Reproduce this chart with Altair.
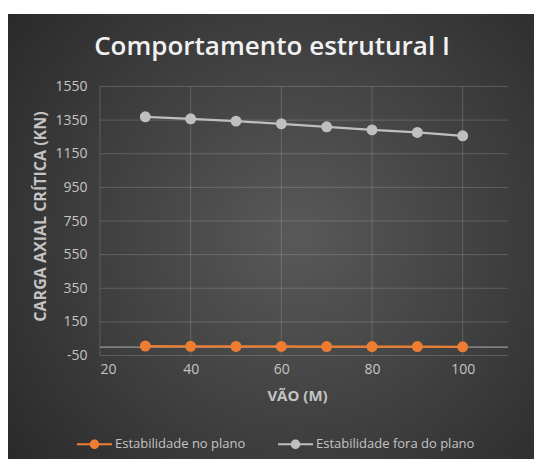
import altair as alt
import pandas as pd

# Span (m) and critical axial load (kN) for the two stability modes
span_m = [30, 40, 50, 60, 70, 80, 90, 100]
in_plane_kn = [6, 5, 4, 4, 3, 3, 3, 2]
out_of_plane_kn = [1370, 1358, 1344, 1328, 1310, 1292, 1277, 1257]

series_names = ["Estabilidade no plano", "Estabilidade fora do plano"]
series_colors = ["#ED7D31", "#BFBFBF"]

x_ticks = [20, 40, 60, 80, 100]
y_ticks = [-50, 150, 350, 550, 750, 950, 1150, 1350, 1550]

chart_title = "Comportamento estrutural I"
x_title = "VÃO (M)"
y_title = "CARGA AXIAL CRÍTICA (KN)"

df = pd.DataFrame({
    "vao": span_m + span_m,
    "carga": in_plane_kn + out_of_plane_kn,
    "serie": [series_names[0]] * len(span_m) + [series_names[1]] * len(span_m),
})

W, H = 408, 269
FONT = "Open Sans"
LABEL_GREY = "#c4c4c4"

x_scale = alt.Scale(domain=[20, 110], nice=False, zero=False)
y_scale = alt.Scale(domain=[-50, 1550], nice=False, zero=False)
color_scale = alt.Scale(domain=series_names, range=series_colors)

x_axis = alt.Axis(
    values=x_ticks, title=x_title, grid=False, domain=False, ticks=False,
    labelExpr="datum.value + ''",
    labelFont=FONT, labelFontSize=14, labelColor=LABEL_GREY, labelPadding=7,
    titleFont=FONT, titleFontSize=15, titleFontWeight="bold", titleColor=LABEL_GREY,
    titleX=197, titleY=39.5, titleBaseline="middle", titleAlign="center",
    zindex=1,
)
y_axis = alt.Axis(
    values=y_ticks, title=y_title, grid=False, domain=False, ticks=False,
    labelExpr="datum.value + ''",
    labelFont=FONT, labelFontSize=14, labelColor=LABEL_GREY, labelPadding=13,
    titleFont=FONT, titleFontSize=16, titleFontWeight="bold", titleColor=LABEL_GREY,
    titleX=-60, titleY=H / 2 - 5, titleAngle=270, titleBaseline="middle", titleAlign="center",
    zindex=1,
)

# Legend symbol: short line with a dot in the middle (filled path)
legend_symbol = (
    "M-1,-0.06H-0.26V0.06H-1Z "
    "M0.26,-0.06H1V0.06H0.26Z "
    "M-0.27,0A0.27,0.27 0 1,1 0.27,0A0.27,0.27 0 1,1 -0.27,0Z"
)
legend = alt.Legend(
    title=None, orient="none", legendX=-23, legendY=340,
    direction="horizontal", symbolType=legend_symbol, symbolSize=1225,
    symbolStrokeWidth=0, symbolOpacity=1, labelFont=FONT, labelFontSize=13,
    labelColor=LABEL_GREY, labelOffset=3, columnPadding=32, padding=0,
)

one_row = alt.Data(values=[{}])

# Dark radial-gradient panel behind the whole chart
panel_fill = {
    "gradient": "radial",
    "x1": 0.55, "y1": 0.5, "r1": 0,
    "x2": 0.55, "y2": 0.5, "r2": 0.75,
    "stops": [
        {"offset": 0, "color": "#595959"},
        {"offset": 1, "color": "#262626"},
    ],
}
panel = alt.Chart(one_row).mark_rect(fill=panel_fill).encode(
    x=alt.value(-92), x2=alt.value(W + 26),
    y=alt.value(-72.5), y2=alt.value(H + 103.5),
)

title_text = alt.Chart(one_row).mark_text(
    text=chart_title, font=FONT, fontSize=26, fontWeight=600,
    color="#f2f2f2", align="center", baseline="middle",
).encode(x=alt.value(172), y=alt.value(-39.5))

grid_style = dict(color="#ffffff", opacity=0.17, strokeWidth=1)
vgrid = alt.Chart(pd.DataFrame({"vao": x_ticks})).mark_rule(**grid_style).encode(
    x=alt.X("vao:Q", scale=x_scale, axis=x_axis)
)
hgrid = alt.Chart(pd.DataFrame({"carga": y_ticks})).mark_rule(**grid_style).encode(
    y=alt.Y("carga:Q", scale=y_scale, axis=y_axis)
)
zero_line = alt.Chart(one_row).mark_rule(color="#9a9a9a", strokeWidth=1.3).encode(
    y=alt.datum(0, scale=y_scale, axis=y_axis)
)

x_enc = alt.X("vao:Q", scale=x_scale, axis=x_axis)
y_enc = alt.Y("carga:Q", scale=y_scale, axis=y_axis)
color_enc = alt.Color("serie:N", scale=color_scale, legend=legend)

lines = alt.Chart(df).mark_line(strokeWidth=2.25).encode(
    x=x_enc, y=y_enc, color=color_enc,
)
points = alt.Chart(df).mark_circle(size=120, opacity=1).encode(
    x=x_enc, y=y_enc, color=color_enc,
)

chart = alt.layer(
    panel, title_text, vgrid, hgrid, zero_line, lines, points
).properties(
    width=W, height=H,
    autosize=alt.AutoSizeParams(type="none"),
    padding={"left": 100, "top": 86.5, "right": 26, "bottom": 103.5},
).configure_view(stroke=None)

chart.save("out.html", embed_options={"renderer": "svg", "actions": False})
